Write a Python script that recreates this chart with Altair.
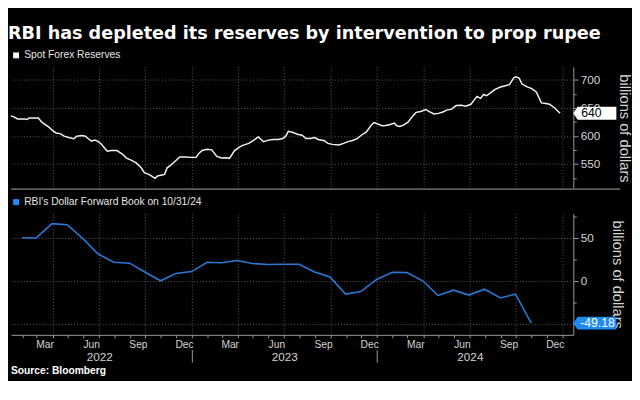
import altair as alt
import pandas as pd

# ---------------- data ----------------
reserve_dates = [
    "2022-01-09", "2022-01-14", "2022-01-22", "2022-02-04", "2022-02-10", "2022-02-14",
    "2022-03-04", "2022-03-11", "2022-03-17", "2022-03-25", "2022-04-02", "2022-04-08",
    "2022-04-16", "2022-04-24", "2022-05-03", "2022-05-13", "2022-05-19", "2022-05-29",
    "2022-06-05", "2022-06-10", "2022-06-17", "2022-06-23", "2022-06-29", "2022-07-06",
    "2022-07-13", "2022-07-18", "2022-07-26", "2022-08-06", "2022-08-16", "2022-08-25",
    "2022-09-04", "2022-09-13", "2022-09-23", "2022-09-29", "2022-10-08", "2022-10-15",
    "2022-10-20", "2022-10-25", "2022-11-03", "2022-11-08", "2022-11-13", "2022-11-19",
    "2022-11-25", "2022-12-02", "2022-12-08", "2022-12-18", "2022-12-30", "2023-01-09",
    "2023-01-15", "2023-01-21", "2023-01-31", "2023-02-09", "2023-02-19", "2023-02-28",
    "2023-03-10", "2023-03-16", "2023-03-26", "2023-04-04", "2023-04-11", "2023-04-23",
    "2023-05-03", "2023-05-12", "2023-05-22", "2023-06-01", "2023-06-10", "2023-06-20",
    "2023-06-29", "2023-07-05", "2023-07-10", "2023-07-18", "2023-07-28", "2023-08-06",
    "2023-08-14", "2023-08-22", "2023-08-31", "2023-09-07", "2023-09-19", "2023-09-26",
    "2023-10-05", "2023-10-18", "2023-10-27", "2023-11-06", "2023-11-12", "2023-11-22",
    "2023-12-01", "2023-12-11", "2023-12-20", "2023-12-26", "2024-01-05", "2024-01-11",
    "2024-01-18", "2024-01-27", "2024-02-04", "2024-02-09", "2024-02-15", "2024-02-22",
    "2024-03-02", "2024-03-12", "2024-03-18", "2024-03-27", "2024-04-06", "2024-04-12",
    "2024-04-22", "2024-05-01", "2024-05-11", "2024-05-17", "2024-05-27", "2024-06-05",
    "2024-06-15", "2024-06-24", "2024-07-04", "2024-07-10", "2024-07-16", "2024-07-23",
    "2024-07-29", "2024-08-04", "2024-08-11", "2024-08-20", "2024-08-30", "2024-09-08",
    "2024-09-18", "2024-09-27", "2024-10-01", "2024-10-07", "2024-10-13", "2024-10-22",
    "2024-11-01", "2024-11-10", "2024-11-20", "2024-11-29", "2024-12-06", "2024-12-15",
    "2024-12-27",
]
reserve_values = [
    635.4, 634.2, 630.2, 630.2, 629.0, 631.9,
    631.9, 624.4, 620.3, 615.6, 608.7, 605.2,
    604.0, 599.4, 597.0, 594.7, 599.4, 600.5,
    599.4, 595.3, 590.6, 592.4, 590.6, 585.4,
    577.8, 572.6, 573.8, 573.8, 568.0, 560.4,
    556.3, 551.7, 543.0, 534.2, 531.3, 527.3,
    524.4, 528.4, 530.2, 531.3, 543.0, 547.0,
    551.7, 557.5, 562.2, 562.2, 561.6, 561.6,
    569.1, 573.8, 576.1, 575.0, 563.3, 560.4,
    561.0, 559.8, 573.8, 579.6, 583.1, 586.6,
    592.4, 598.2, 589.5, 592.4, 593.6, 593.6,
    595.3, 599.4, 608.1, 606.3, 602.8, 601.1,
    595.3, 595.3, 597.0, 593.6, 591.2, 586.6,
    584.8, 583.7, 586.6, 590.1, 591.2, 594.7,
    601.1, 606.9, 618.5, 623.8, 620.3, 618.0,
    618.6, 620.3, 622.6, 618.0, 616.8, 619.1,
    624.4, 636.0, 641.8, 643.5, 647.0, 643.5,
    638.9, 640.1, 643.0, 645.9, 647.6, 654.0,
    654.6, 652.9, 656.3, 663.3, 670.3, 666.8,
    673.8, 671.5, 676.1, 682.5, 686.6, 688.9,
    691.2, 704.0, 705.2, 702.9, 692.4, 687.7,
    684.2, 678.4, 658.7, 657.5, 656.3, 650.5,
    640.3,
]

forward_dates = [
    "2022-01-31", "2022-02-28", "2022-03-31", "2022-04-30", "2022-05-31", "2022-06-30",
    "2022-07-31", "2022-08-31", "2022-09-30", "2022-10-31", "2022-11-30", "2022-12-31",
    "2023-01-31", "2023-02-28", "2023-03-31", "2023-04-30", "2023-05-31", "2023-06-30",
    "2023-07-31", "2023-08-31", "2023-09-30", "2023-10-31", "2023-11-30", "2023-12-31",
    "2024-01-31", "2024-02-29", "2024-03-31", "2024-04-30", "2024-05-31", "2024-06-30",
    "2024-07-31", "2024-08-31", "2024-09-30", "2024-10-31",
]
forward_values = [
    50.0, 49.8, 66.4, 65.2, 49.0, 31.1,
    21.6, 20.5, 10.2, 0.0, 8.4, 10.7,
    21.6, 20.9, 23.5, 20.1, 19.0, 19.3,
    19.3, 10.2, 4.5, -15.5, -12.5, 1.6,
    9.9, 9.5, 0.0, -17.0, -10.9, -16.6,
    -9.8, -20.0, -15.5, -49.18,
]

title_text = "RBI has depleted its reserves by intervention to prop rupee"
top_series = "Spot Forex Reserves"
bottom_series = "RBI's Dollar Forward Book on 10/31/24"
unit_title = "billions of dollars"
source_text = "Source: Bloomberg"

top_df = pd.DataFrame({"date": reserve_dates, "value": reserve_values, "series": top_series})
bot_df = pd.DataFrame({"date": forward_dates, "value": forward_values, "series": bottom_series})
top_last = top_df.iloc[[-1]]
bot_last = bot_df.iloc[[-1]]

# ---------------- style ----------------
W = 575
H_TOP = 125
H_BOT = 124
FONT = "Liberation Sans"
GRID = "#5a5a5a"
AXIS = "#9a9a9a"
SEP = "#5e5e5e"
LABEL = "#d4d4d4"
LINE_WHITE = "#f2f2f2"
BLUE = "#2a78d4"
BLUE_BOX = "#1e8cf2"
BOX_PATH = "M -1 0 L -0.8 -0.3 L 1 -0.3 L 1 0.3 L -0.8 0.3 Z"


def utc(y, m, d):
    return alt.DateTime(year=y, month=m, date=d, utc=True)


x_scale = alt.Scale(type="utc", domain=[utc(2022, 1, 9), utc(2025, 1, 22)], nice=False)

month_starts = [utc(y, m, 1) for y in (2022, 2023, 2024) for m in range(1, 13)
                if not (y == 2022 and m == 1)] + [utc(2025, 1, 1)]
quarter_starts = [utc(y, m, 1) for y in (2022, 2023, 2024) for m in (1, 4, 7, 10)
                  if not (y == 2022 and m == 1)] + [utc(2025, 1, 1)]
year_mids = [utc(y, 7, 2) for y in (2022, 2023, 2024)]
year_starts = [utc(2023, 1, 1), utc(2024, 1, 1)]

major = "datum.value % 50 === 0"


def y_axis(values, label_test):
    return alt.Axis(
        orient="right", values=values,
        labelExpr=f"({label_test}) ? datum.label : ''",
        tickSize={"condition": {"test": major, "value": 5}, "value": 3},
        gridOpacity={"condition": {"test": major, "value": 1}, "value": 0},
        grid=True, gridDash=[1, 2], gridColor=GRID,
        domainColor=AXIS, tickColor=AXIS,
        labelColor=LABEL, labelFontSize=12, labelFont=FONT, labelPadding=2,
        title=unit_title, titleColor=LABEL, titleFontSize=15, titleFont=FONT,
        titleFontWeight="normal", titlePadding=17,
    )


def legend(color):
    return alt.Legend(
        orient="none", legendX=0, legendY=-17, title=None,
        symbolType="square", symbolSize=36, symbolFillColor=color, symbolStrokeWidth=0,
        labelColor="#e6e6e6", labelFontSize=10.5, labelFont=FONT, labelOffset=3,
        labelLimit=0,
    )


# ---------------- top panel ----------------
y_top = alt.Y("value:Q", scale=alt.Scale(domain=[505, 723], nice=False, zero=False),
              axis=y_axis(list(range(525, 725, 25)), major))
x_top = alt.X("date:T", scale=x_scale, axis=alt.Axis(
    values=quarter_starts, grid=True, gridDash=[1, 2], gridColor=GRID,
    ticks=False, labels=False, domain=False, title=None))

top_line = alt.Chart(top_df).mark_line(strokeWidth=1.5).encode(
    x=x_top, y=y_top,
    color=alt.Color("series:N", scale=alt.Scale(domain=[top_series], range=[LINE_WHITE]),
                    legend=legend("#ffffff")),
)
# panel separator running across the full width, under the top panel
separator = alt.Chart(top_last).mark_rule(color=SEP, strokeWidth=2).encode(
    x=alt.value(0), x2=alt.value(W + 48), y=alt.value(H_TOP))
top_box = alt.Chart(top_last).mark_point(shape=BOX_PATH, size=(44 ** 2), filled=True,
                                         color="#ffffff", opacity=1).encode(
    x=alt.value(W + 22), y=y_top)
top_text = alt.Chart(top_last).transform_calculate(
    lbl="replace(format(datum.value, '.0f'), '\u2212', '-')"
).mark_text(align="left", baseline="middle", fontSize=12.5, font=FONT, color="#000000").encode(
    x=alt.value(W + 8), y=y_top, text="lbl:N")
top = alt.layer(top_line, separator, top_box, top_text).properties(width=W, height=H_TOP)

# ---------------- bottom panel ----------------
y_bot = alt.Y("value:Q", scale=alt.Scale(domain=[-62.8, 78.1], nice=False, zero=False),
              axis=y_axis([-50, -25, 0, 25, 50, 75], major + " && datum.value > -50"))

x_month = alt.X("date:T", scale=x_scale, axis=alt.Axis(
    orient="bottom", values=month_starts, grid=False, ticks=True, tickSize=3,
    tickColor=AXIS, domainColor=AXIS,
    labelExpr="indexof([2, 5, 8, 11], utcmonth(datum.value)) >= 0 ? utcFormat(datum.value, '%b') : ''",
    labelOffset=8, labelPadding=2, labelFontSize=10.5, labelFont=FONT, labelColor=LABEL,
    labelOverlap=False, labelFlush=False, title=None))
x_grid = alt.X("date:T", scale=x_scale, axis=alt.Axis(
    orient="bottom", values=quarter_starts, grid=True, gridDash=[1, 2], gridColor=GRID,
    ticks=False, labels=False, domain=False, title=None))
x_year = alt.X("date:T", scale=x_scale, axis=alt.Axis(
    orient="bottom", values=year_mids, ticks=False, domain=False, grid=False,
    labelExpr="utcFormat(datum.value, '%Y')", labelPadding=17, labelFontSize=12,
    labelFont=FONT, labelColor=LABEL, labelOverlap=False, labelFlush=False, title=None))
x_sep = alt.X("date:T", scale=x_scale, axis=alt.Axis(
    orient="bottom", values=year_starts, ticks=True, tickSize=13, tickColor=AXIS,
    labels=False, domain=False, grid=False, offset=15, title=None))

bot_base = alt.Chart(bot_df)
bot_line = bot_base.mark_line(strokeWidth=1.6).encode(
    x=x_month, y=y_bot,
    color=alt.Color("series:N", scale=alt.Scale(domain=[bottom_series], range=[BLUE]),
                    legend=legend(BLUE_BOX)),
)
bot_grid = bot_base.mark_line(opacity=0).encode(x=x_grid, y=y_bot)
bot_year = bot_base.mark_line(opacity=0).encode(x=x_year, y=y_bot)
bot_sep = bot_base.mark_line(opacity=0).encode(x=x_sep, y=y_bot)
bot_box = alt.Chart(bot_last).mark_point(shape=BOX_PATH, size=(44 ** 2), filled=True,
                                         color=BLUE_BOX, opacity=1).encode(
    x=alt.value(W + 22), y=y_bot)
bot_text = alt.Chart(bot_last).transform_calculate(
    lbl="replace(format(datum.value, '.2f'), '\u2212', '-')"
).mark_text(align="left", baseline="middle", fontSize=12.5, font=FONT, color="#ffffff").encode(
    x=alt.value(W + 7), y=y_bot, text="lbl:N")

bottom = alt.layer(bot_grid, bot_year, bot_sep, bot_line, bot_box, bot_text).resolve_axis(
    x="independent").properties(
    width=W, height=H_BOT,
    title=alt.TitleParams(source_text, orient="bottom", anchor="start", font=FONT,
                          fontSize=10.5, fontWeight="bold", color="#ffffff", offset=4),
)

chart = alt.vconcat(
    top, bottom, spacing=7,
    title=alt.TitleParams(title_text, anchor="start", font="DejaVu Sans", fontSize=18,
                          fontWeight="bold", color="#ffffff", offset=7),
).resolve_scale(color="independent", y="independent").resolve_legend(
    color="independent").properties(
    padding={"left": 0, "top": 14, "right": 0, "bottom": 0},
).configure(background="#000000", font=FONT).configure_view(stroke=None)

chart.save("out.html", embed_options={"renderer": "svg", "actions": False})
